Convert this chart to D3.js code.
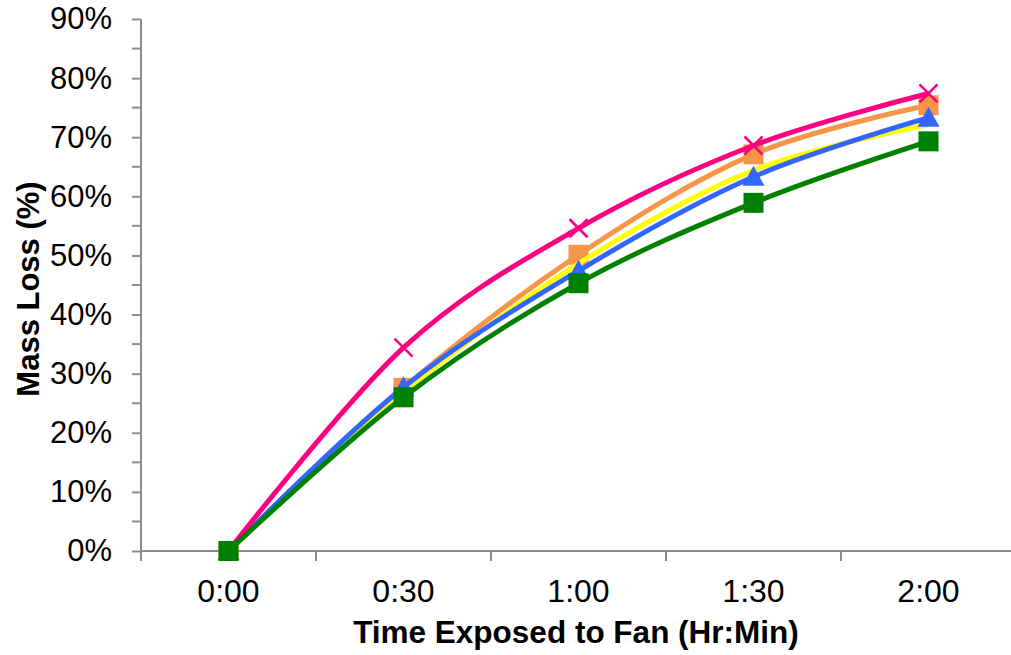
<!DOCTYPE html>
<html>
<head>
<meta charset="utf-8">
<script src="https://cdn.jsdelivr.net/npm/d3@7"></script>
<style>
  body { margin: 0; background: #fff; }
  text { font-family: Arial, "Liberation Sans", sans-serif; }
</style>
</head>
<body>
<div id="chart"></div>
<script>
// Chart data
var times = ["0:00", "0:30", "1:00", "1:30", "2:00"];
var pinkSeries   = [0, 34.4, 54.6, 68.6, 77.4];
var orangeSeries = [0, 27.6, 50.1, 67.1, 75.4];
var yellowSeries = [0, 26.8, 48.6, 64.4, 72.1];
var blueSeries   = [0, 27.7, 47.4, 63.3, 73.3];
var greenSeries  = [0, 26.0, 45.3, 58.9, 69.3];
var yTicks = [0, 10, 20, 30, 40, 50, 60, 70, 80, 90];

var width = 1011, height = 655;
var margin = { top: 19, right: -5, bottom: 104, left: 141 };
var innerW = width - margin.left - margin.right;
var innerH = height - margin.top - margin.bottom;

var svg = d3.select("#chart").append("svg")
    .attr("width", width)
    .attr("height", height);

var g = svg.append("g")
    .attr("transform", `translate(${margin.left},${margin.top})`);

var x = d3.scaleBand().domain(times).range([0, innerW]);
var y = d3.scaleLinear().domain([0, 90]).range([innerH, 0]);

var axisColor = "#8c8c8c";

// y axis: minor ticks at 5%
var minor = d3.range(5, 90, 10);
g.selectAll(".minor").data(minor).enter().append("line")
    .attr("x1", -9).attr("x2", 0)
    .attr("y1", d => y(d)).attr("y2", d => y(d))
    .attr("stroke", axisColor).attr("stroke-width", 2);

var yAxis = g.append("g")
    .call(d3.axisLeft(y).tickValues(yTicks).tickSize(9).tickPadding(20)
        .tickFormat(d => d + "%"));
yAxis.select(".domain").attr("stroke", axisColor).attr("stroke-width", 2)
    .attr("d", `M0,${innerH}V0`);
yAxis.selectAll(".tick line").attr("stroke", axisColor).attr("stroke-width", 2);
yAxis.selectAll(".tick text").attr("font-size", 31).attr("fill", "#000")
    .attr("font-family", "Arial, 'Liberation Sans', sans-serif");

// x axis: ticks at category boundaries
var bounds = d3.range(times.length + 1).map(i => i * x.bandwidth());
var xAxis = g.append("g").attr("transform", `translate(0,${innerH})`);
xAxis.append("line")
    .attr("x1", 0).attr("x2", innerW)
    .attr("stroke", axisColor).attr("stroke-width", 2);
xAxis.selectAll(".bt").data(bounds).enter().append("line")
    .attr("x1", d => d).attr("x2", d => d)
    .attr("y1", 0).attr("y2", 10)
    .attr("stroke", axisColor).attr("stroke-width", 2);
xAxis.selectAll(".lbl").data(times).enter().append("text")
    .attr("x", d => x(d) + x.bandwidth() / 2)
    .attr("y", 51)
    .attr("text-anchor", "middle")
    .attr("font-size", 32)
    .text(d => d);

// axis titles
svg.append("text")
    .attr("x", 576).attr("y", 643)
    .attr("text-anchor", "middle")
    .attr("font-size", 31.5).attr("font-weight", "bold")
    .text("Time Exposed to Fan (Hr:Min)");
svg.append("text")
    .attr("transform", "translate(39,289) rotate(-90)")
    .attr("text-anchor", "middle")
    .attr("font-size", 31).attr("font-weight", "bold")
    .text("Mass Loss (%)");

// series, drawn in stacking order
var series = [
    { values: orangeSeries, color: "#F79646", marker: "square" },
    { values: yellowSeries, color: "#FFFF00", marker: "none" },
    { values: blueSeries,   color: "#3366FF", marker: "triangle" },
    { values: pinkSeries,   color: "#FF0080", marker: "x" },
    { values: greenSeries,  color: "#008000", marker: "square" }
];

var line = d3.line()
    .x((d, i) => x(times[i]) + x.bandwidth() / 2)
    .y(d => y(d))
    .curve(d3.curveCardinal.tension(0));

series.forEach(function(s) {
    var sg = g.append("g");
    sg.append("path")
        .attr("d", line(s.values))
        .attr("fill", "none")
        .attr("stroke", s.color)
        .attr("stroke-width", 5)
        .attr("stroke-linejoin", "round");

    var pts = sg.selectAll(".pt").data(s.values).enter().append("g")
        .attr("transform", (d, i) => `translate(${x(times[i]) + x.bandwidth() / 2},${y(d)})`);

    if (s.marker === "square") {
        pts.append("rect")
            .attr("x", -10).attr("y", -10)
            .attr("width", 20).attr("height", 20)
            .attr("fill", s.color);
    } else if (s.marker === "triangle") {
        pts.append("path")
            .attr("d", "M0,-11L11,9L-11,9Z")
            .attr("fill", s.color);
    } else if (s.marker === "x") {
        pts.append("path")
            .attr("d", "M-9,-9L9,9M9,-9L-9,9")
            .attr("stroke", s.color)
            .attr("stroke-width", 2.5);
    }
});
</script>
</body>
</html>
